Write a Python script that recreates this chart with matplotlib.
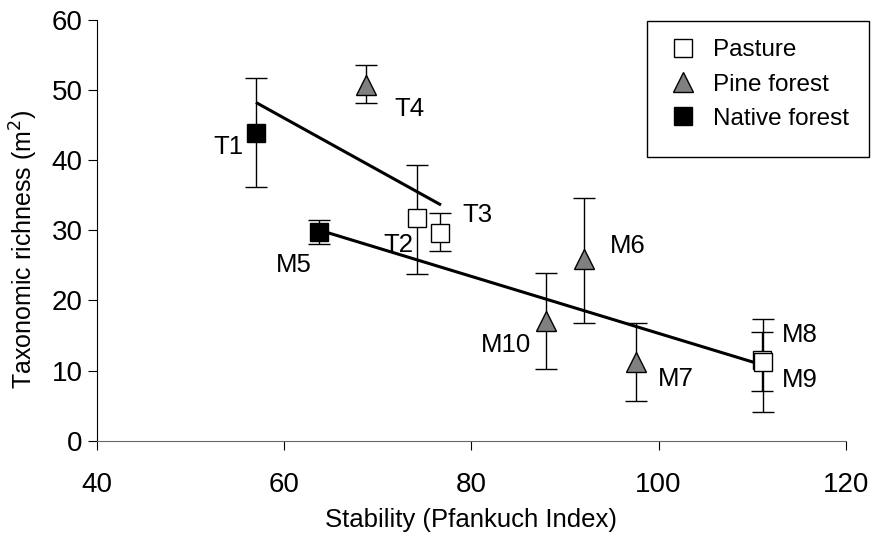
import matplotlib
matplotlib.use("Agg")
import matplotlib.pyplot as plt
from matplotlib.patches import Rectangle

plt.rcParams['font.family'] = ['Liberation Sans', 'DejaVu Sans']

# site data: stability (Pfankuch index) vs taxonomic richness, with error bar ends
sites = ['T1', 'M5', 'T4', 'M10', 'M6', 'M7', 'T2', 'T3', 'M8', 'M9']
land_use = ['Native forest', 'Native forest', 'Pine forest', 'Pine forest', 'Pine forest',
            'Pine forest', 'Pasture', 'Pasture', 'Pasture', 'Pasture']
stability = [57.0, 63.7, 68.7, 88.0, 92.0, 97.6, 74.2, 76.6, 111.05, 111.2]
richness = [43.9, 29.7, 50.7, 17.0, 25.9, 11.2, 31.7, 29.6, 11.5, 11.2]
err_low = [36.2, 28.1, 48.2, 10.2, 16.8, 5.6, 23.7, 27.1, 7.1, 4.1]
err_high = [51.7, 31.5, 53.5, 23.9, 34.6, 16.8, 39.3, 32.4, 15.5, 17.3]

# the two fitted trend lines (end points)
trend_upper_x = [57.1, 76.6]
trend_upper_y = [48.1, 33.7]
trend_lower_x = [64.5, 110.1]
trend_lower_y = [29.7, 11.2]

groups = ['Pasture', 'Pine forest', 'Native forest']

# styles
styles = {
    'Pasture': dict(marker='s', ms=13, mfc='white', mec='black', mew=1.0),
    'Pine forest': dict(marker='^', ms=15, mfc='#808080', mec='black', mew=1.0),
    'Native forest': dict(marker='s', ms=13, mfc='black', mec='black', mew=1.0),
}
# label offsets in pixels (dx, dy)
label_offsets = {
    'T1': (-28, -14), 'T4': (44, -24), 'T3': (38, 18), 'T2': (-19, -27),
    'M5': (-25, -33), 'M6': (44, 13), 'M10': (-40, -24), 'M7': (40, -17),
    'M8': (38, 25), 'M9': (36, -18),
}

fig = plt.figure(figsize=(8.79, 5.4), dpi=100)
ax = fig.add_axes([0.1107, 0.1839, 0.8514, 0.7796])

# trend lines
ax.plot(trend_upper_x, trend_upper_y, color='black', lw=2.2, zorder=2)
ax.plot(trend_lower_x, trend_lower_y, color='black', lw=2.2, zorder=2)

# error bars
lo = [r - l for r, l in zip(richness, err_low)]
hi = [h - r for r, h in zip(richness, err_high)]
ax.errorbar(stability, richness, yerr=[lo, hi], fmt='none', ecolor='black',
            elinewidth=1.0, capsize=8, capthick=1.0, zorder=3)

# markers per group
handles = []
for g in groups:
    xs = [x for x, lu in zip(stability, land_use) if lu == g]
    ys = [y for y, lu in zip(richness, land_use) if lu == g]
    h, = ax.plot(xs, ys, ls='none', zorder=4, label=g, **styles[g])
    handles.append(h)

# site labels
for s, x, y in zip(sites, stability, richness):
    dx, dy = label_offsets[s]
    ax.annotate(s, (x, y), xytext=(dx, dy), textcoords='offset pixels',
                ha='center', va='center', fontsize=18.5)

ax.set_xlim(40, 120)
ax.set_ylim(0, 60)
ax.set_xticks([40, 60, 80, 100, 120])
ax.set_yticks([0, 10, 20, 30, 40, 50, 60])
ax.spines['top'].set_visible(False)
ax.spines['right'].set_visible(False)
ax.spines['left'].set_linewidth(0.8)
ax.spines['bottom'].set_linewidth(0.8)
ax.spines['bottom'].set_color('#666666')
ax.tick_params(axis='both', direction='out', length=6.5, width=0.8, labelsize=20)
ax.tick_params(axis='x', pad=16)
ax.tick_params(axis='y', pad=4)

ax.set_xlabel('Stability (Pfankuch Index)', fontsize=18.5, labelpad=7)
ax.set_ylabel('Taxonomic richness (m$^2$)', fontsize=18)
ax.yaxis.set_label_coords(-0.077, 0.455)

# legend box
fig.patches.append(Rectangle((0.7364, 0.7098), 0.2526, 0.2519, transform=fig.transFigure,
                             facecolor='white', edgecolor='black', lw=1.0, zorder=5))
leg = fig.legend(handles=handles, loc='upper left', bbox_to_anchor=(0.752, 0.945),
                 frameon=False, fontsize=17.5, handlelength=1.0, handletextpad=0.75,
                 labelspacing=0.5, borderaxespad=0)
leg.set_zorder(6)

fig.savefig('out.png', dpi=100)
